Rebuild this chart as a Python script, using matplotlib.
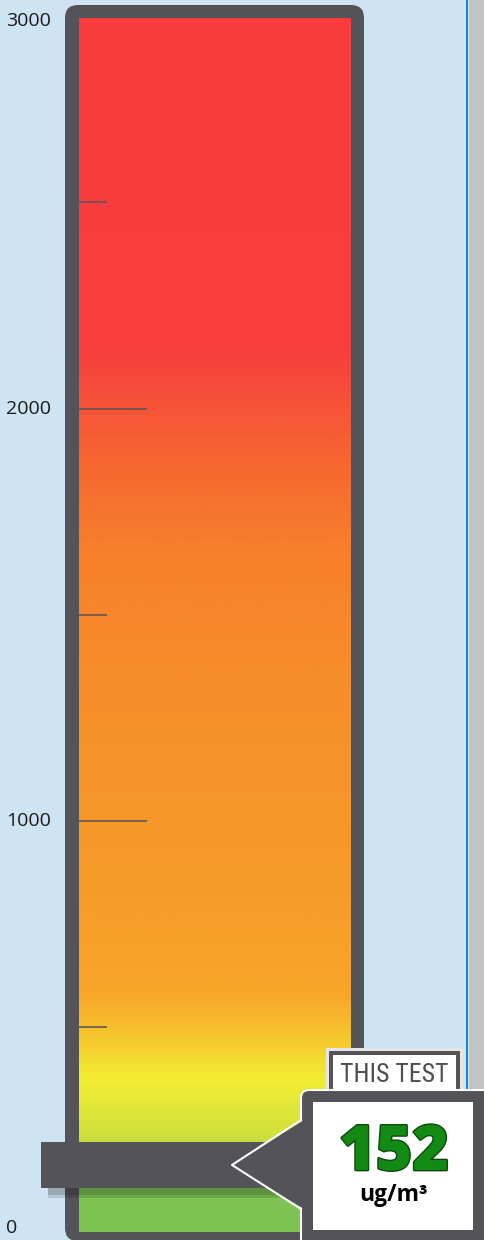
import numpy as np
import matplotlib.pyplot as plt
import matplotlib.patheffects as pe
from matplotlib.colors import LinearSegmentedColormap, Normalize
from matplotlib.patches import FancyBboxPatch, Rectangle, Polygon
from matplotlib.lines import Line2D
from matplotlib.transforms import Affine2D

W, H = 485, 1240

# reading shown by the gauge
reading = 152
unit = 'ug/m³'
badge = 'THIS TEST'

# scale
label_values = [0, 1000, 2000, 3000]
major_ticks = [1000, 2000]
minor_ticks = [500, 1500, 2500]

# colour band of the tube (value -> colour)
grad_values = [0, 100, 235, 367, 469, 566, 808, 1293, 1657, 1851, 2021, 2142, 3000]
grad_colors = ['#7dc353', '#7fc453', '#d2e13b', '#f2ee34', '#f6c72d', '#f7a72a',
               '#f79c28', '#f68f2a', '#f6802c', '#f6692f', '#f6523a', '#f73e3d', '#f93b3e']

bg = '#cfe4f2'
dark = '#545358'

fig = plt.figure(figsize=(W / 100, H / 100), dpi=100)
fig.patch.set_facecolor(bg)
ax = fig.add_axes([0, 0, 1, 1])
ax.axis('off')

# pixel coordinates, y going down from the top
PX = Affine2D().scale(1 / W, -1 / H).translate(0, 1) + fig.transFigure

# value axis: 0 sits near the bottom of the tube
px_per_unit = 0.4125
zero_px = 1233.5
ymin = (zero_px - H) / px_per_unit
ymax = zero_px / px_per_unit

# right page edge
ax.add_patch(Rectangle((469, 0), 16, H, fc='#c2c2c2', ec='none', transform=PX))
ax.add_patch(Rectangle((466, 0), 2.5, H, fc='#1a86c8', ec='none', transform=PX))

# tube body
ax.add_patch(FancyBboxPatch((65, 5), 299, 1236, boxstyle='round,pad=0,rounding_size=13',
                            fc=dark, ec='none', transform=PX, zorder=1))

# gradient fill
vmax = grad_values[-1]
cmap = LinearSegmentedColormap.from_list(
    'gauge', [(v / vmax, c) for v, c in zip(grad_values, grad_colors)])
inner_top = (zero_px - 18) / px_per_unit
vals = np.linspace(0, inner_top, 800).reshape(-1, 1)
ax.imshow(vals, extent=[79, 351, (zero_px - 1232) / px_per_unit, inner_top], origin='lower',
          aspect='auto', cmap=cmap, norm=Normalize(0, vmax), zorder=2, interpolation='bilinear')

# ticks
ax.hlines(major_ticks, 79, 147, color=dark, lw=1.1, zorder=3)
ax.hlines(minor_ticks, 79, 107, color=dark, lw=1.1, zorder=3)

# labels kept inside the picture at both ends
top_label = (zero_px - 21) / px_per_unit
bottom_label = (zero_px - 1228) / px_per_unit
for v in label_values:
    ax.text(6, min(max(v, bottom_label), top_label), str(v), ha='left', va='center',
            fontsize=14, family=['Open Sans', 'DejaVu Sans'], color='#1a1a1a')

# pointer bar with a soft shadow
ax.add_patch(Rectangle((48, reading - 66), 255, 24, fc='black', alpha=0.12, ec='none', zorder=4))
ax.add_patch(Rectangle((48, reading - 58), 255, 16, fc='black', alpha=0.15, ec='none', zorder=4))
ax.add_patch(Rectangle((41, reading - 42), 262, 112, fc=dark, ec='none', zorder=5))

# badge tab
ax.add_patch(Rectangle((326, 1048), 137, 50, fc='#e6e6e6', ec='none', transform=PX, zorder=6))
ax.add_patch(Rectangle((329, 1051), 131, 47, fc=dark, ec='none', transform=PX, zorder=6))
ax.add_patch(Rectangle((333, 1055), 123, 43, fc='white', ec='none', transform=PX, zorder=6))
ax.text(394.5, 1075, badge, transform=PX, ha='center', va='center', fontsize=18.5,
        fontstretch='condensed',
        family=['Roboto Condensed', 'Liberation Sans Narrow', 'DejaVu Sans'],
        color='#505050', zorder=7)

# callout box
ax.add_patch(FancyBboxPatch((301, 1090), 200, 170, boxstyle='round,pad=0,rounding_size=8',
                            fc=dark, ec='white', lw=1.5, transform=PX, zorder=8))
ax.add_patch(Rectangle((313, 1102), 160, 128, fc='white', ec='none', transform=PX, zorder=9))
ax.add_patch(Polygon([(304, 1120), (232, 1165), (304, 1209)], closed=True, fc=dark, ec='none',
                     transform=PX, zorder=9))
ax.add_line(Line2D([301, 232, 301], [1120, 1165, 1209], color='white', lw=1.5,
                   transform=PX, zorder=10))

ax.text(394, 1153, str(reading), transform=PX, ha='center', va='center', fontsize=45,
        fontweight='heavy', family=['Open Sans', 'DejaVu Sans'], color='#138a13', zorder=11,
        path_effects=[pe.withStroke(linewidth=2, foreground='#0b4a0b')])
ax.text(394, 1195, unit, transform=PX, ha='center', va='center', fontsize=16.5,
        fontweight='bold', family=['Open Sans', 'DejaVu Sans'], color='black', zorder=11)

ax.set_xlim(0, W)
ax.set_ylim(ymin, ymax)
fig.savefig('out.png', dpi=100, facecolor=bg)
